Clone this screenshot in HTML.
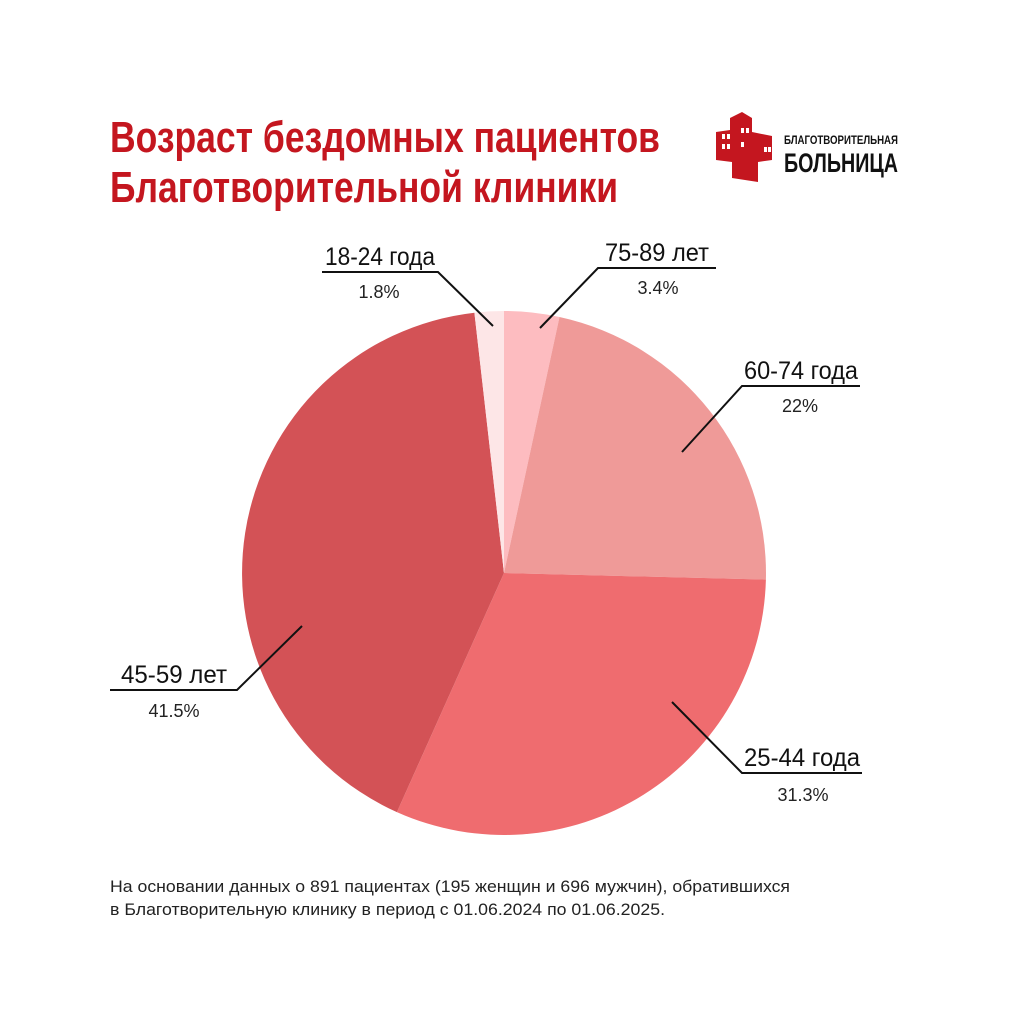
<!DOCTYPE html>
<html><head><meta charset="utf-8"><style>
html,body{margin:0;padding:0;background:#fff;}
svg{display:block;}
text{font-family:"Liberation Sans Narrow","Liberation Sans",sans-serif;}
</style></head><body>
<svg width="1024" height="1024" viewBox="0 0 1024 1024" xmlns="http://www.w3.org/2000/svg">
<rect width="1024" height="1024" fill="#fff"/>
<text x="110" y="152" font-size="44" font-weight="bold" fill="#c4161f" textLength="550" lengthAdjust="spacingAndGlyphs">Возраст бездомных пациентов</text>
<text x="110" y="202" font-size="44" font-weight="bold" fill="#c4161f" textLength="508" lengthAdjust="spacingAndGlyphs">Благотворительной клиники</text>
<!-- logo -->
<g fill="#c4161f">
<polygon points="716,132 730,130 730,118 742,112 752,118 752,132 772,136 772,160 758,162 758,182 732,178 732,162 716,160"/>
</g>
<g fill="#fff">
<rect x="722" y="134" width="3" height="5"/><rect x="727" y="134" width="3" height="5"/>
<rect x="722" y="144" width="3" height="5"/><rect x="727" y="144" width="3" height="5"/>
<rect x="741" y="128" width="3" height="5"/><rect x="746" y="128" width="3" height="5"/>
<rect x="741" y="142" width="3" height="5"/>
<rect x="764" y="147" width="3" height="5"/><rect x="768" y="147" width="3" height="5"/>
</g>
<text x="784" y="144" font-size="12" font-weight="bold" fill="#111" textLength="114" lengthAdjust="spacingAndGlyphs">БЛАГОТВОРИТЕЛЬНАЯ</text>
<text x="784" y="172" font-size="27" font-weight="bold" fill="#111" textLength="114" lengthAdjust="spacingAndGlyphs">БОЛЬНИЦА</text>
<!-- pie -->
<path d="M504,573 L504,311 A262,262 0 0 1 559.5,317 Z" fill="#fdbcc0"/>
<path d="M504,573 L559.5,317 A262,262 0 0 1 765.9,579.6 Z" fill="#ef9a98"/>
<path d="M504,573 L765.9,579.6 A262,262 0 0 1 396.9,812.1 Z" fill="#ef6c6f"/>
<path d="M504,573 L396.9,812.1 A262,262 0 0 1 474.4,312.7 Z" fill="#d35256"/>
<path d="M504,573 L474.4,312.7 A262,262 0 0 1 504,311 Z" fill="#fde6e7"/>
<!-- leaders -->
<g stroke="#111" stroke-width="2" fill="none">
<polyline points="322,272 438,272 493,326"/>
<polyline points="540,328 598,268 716,268"/>
<polyline points="682,452 742,386 860,386"/>
<polyline points="672,702 742,773 862,773"/>
<polyline points="302,626 237,690 110,690"/>
</g>
<g font-size="25" fill="#111" text-anchor="middle">
<text x="380" y="265" textLength="110" lengthAdjust="spacingAndGlyphs">18-24 года</text>
<text x="657" y="261" textLength="104" lengthAdjust="spacingAndGlyphs">75-89 лет</text>
<text x="801" y="379" textLength="114" lengthAdjust="spacingAndGlyphs">60-74 года</text>
<text x="802" y="766" textLength="116" lengthAdjust="spacingAndGlyphs">25-44 года</text>
<text x="174" y="683" textLength="106" lengthAdjust="spacingAndGlyphs">45-59 лет</text>
</g>
<g font-size="18" fill="#222" text-anchor="middle">
<text x="379" y="298">1.8%</text>
<text x="658" y="294">3.4%</text>
<text x="800" y="412">22%</text>
<text x="803" y="801">31.3%</text>
<text x="174" y="717">41.5%</text>
</g>
<g font-size="17" fill="#222">
<text x="110" y="892" textLength="680" lengthAdjust="spacingAndGlyphs">На основании данных о 891 пациентах (195 женщин и 696 мужчин), обратившихся</text>
<text x="110" y="915" textLength="555" lengthAdjust="spacingAndGlyphs">в Благотворительную клинику в период с 01.06.2024 по 01.06.2025.</text>
</g>
</svg>
</body></html>
